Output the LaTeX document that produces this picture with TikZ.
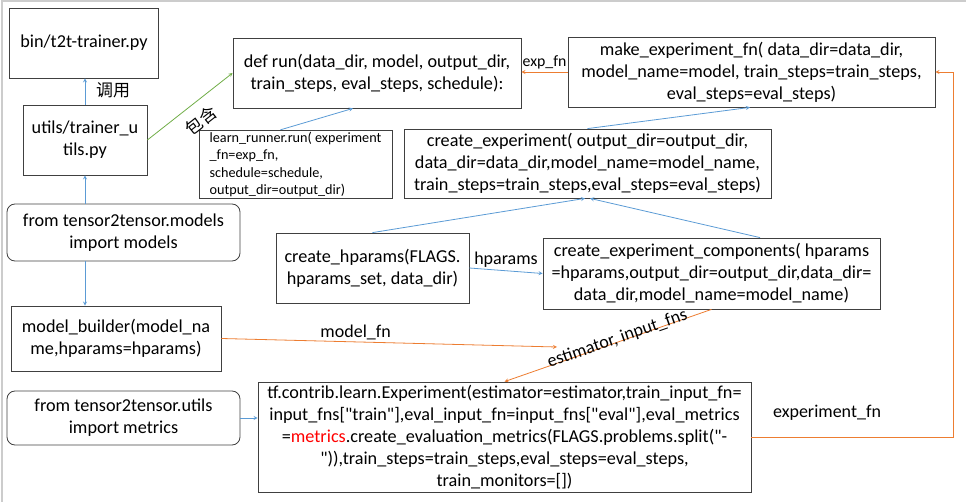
\documentclass[tikz,border=0pt]{standalone}
\usepackage{fontspec}
\setmainfont{Carlito}
\newfontfamily\codefont{Carlito}
\newfontfamily\cjk{Noto Sans CJK SC}
\usetikzlibrary{positioning}

\definecolor{arrblue}{HTML}{5B9BD5}
\definecolor{arrorange}{HTML}{ED7D31}
\definecolor{arrgreen}{HTML}{70AD47}
\definecolor{boxline}{HTML}{404040}

\tikzset{
  codebox/.style={draw=boxline, line width=0.8pt, align=center, inner sep=2pt,
    font=\codefont\fontsize{18.2}{22}\selectfont},
  smallbox/.style={codebox, align=left, font=\codefont\fontsize{14.2}{17.3}\selectfont},
  roundbox/.style={codebox, rounded corners=8pt},
  lbl/.style={font=\codefont\fontsize{18}{20}\selectfont, inner sep=1pt},
  cjklbl/.style={font=\cjk\fontsize{17}{19}\selectfont, inner sep=1pt},
  bluearr/.style={->, draw=arrblue, line width=0.8pt},
  orangearr/.style={->, draw=arrorange, line width=0.8pt},
  greenarr/.style={->, draw=arrgreen, line width=0.8pt}
}

\begin{document}
\begin{tikzpicture}[x=1pt,y=-1pt,>=stealth]
  \useasboundingbox (0,0) rectangle (966,502);
  % frame of the screenshot
  \draw[black!20, line width=1.2pt] (2,502) -- (2,1) -- (966,1);

  % left column
  \node[codebox, minimum width=149pt, minimum height=70pt] (bin) at (84,43) {bin/t2t-trainer.py};
  \node[codebox, minimum width=124pt, minimum height=70pt] (utils) at (85,140) {utils/trainer\_u\\tils.py};
  \node[roundbox, minimum width=233pt, minimum height=57pt] (models) at (123.5,232.5)
    {from tensor2tensor.models\\import models};
  \node[codebox, minimum width=210pt, minimum height=65pt] (mbuild) at (116,338.5)
    {model\_builder(model\_na\\me,hparams=hparams)};
  \node[roundbox, minimum width=233pt, minimum height=54pt] (umetrics) at (123.5,418)
    {from tensor2tensor.utils\\import metrics};

  % run and learn_runner
  \node[codebox, minimum width=288pt, minimum height=70pt] (run) at (377,73)
    {def run(data\_dir, model, output\_dir,\\train\_steps, eval\_steps, schedule):};
  \node[smallbox, minimum width=193pt, minimum height=67pt] (learn) at (295.5,164.5)
    {learn\_runner.run( experiment\\\_fn=exp\_fn,\\schedule=schedule,\\output\_dir=output\_dir)};

  % experiment builders
  \node[codebox, minimum width=367pt, minimum height=70pt] (makefn) at (751.5,72)
    {make\_experiment\_fn( data\_dir=data\_dir,\\model\_name=model, train\_steps=train\_steps,\\eval\_steps=eval\_steps)};
  \node[codebox, minimum width=367pt, minimum height=69pt] (cexp) at (587.5,163.5)
    {create\_experiment( output\_dir=output\_dir,\\data\_dir=data\_dir,model\_name=model\_name,\\train\_steps=train\_steps,eval\_steps=eval\_steps)};
  \node[codebox, minimum width=193pt, minimum height=70pt] (chparams) at (372.5,268)
    {create\_hparams(FLAGS.\\hparams\_set, data\_dir)};
  \node[codebox, minimum width=337pt, minimum height=71pt] (comps) at (711.5,273.5)
    {create\_experiment\_components( hparams\\=hparams,output\_dir=output\_dir,data\_dir=\\data\_dir,model\_name=model\_name)};
  \node[codebox, minimum width=493pt, minimum height=110pt] (exper) at (504.5,437)
    {tf.contrib.learn.Experiment(estimator=estimator,train\_input\_fn=\\
     input\_fns["train"],eval\_input\_fn=input\_fns["eval"],eval\_metrics\\
     =\textcolor{red}{metrics}.create\_evaluation\_metrics(FLAGS.problems.split("-\\
     ")),train\_steps=train\_steps,eval\_steps=eval\_steps,\\
     train\_monitors=[])};

  \coordinate (mfend) at (557,347);
  \coordinate (loopc) at (953,72);

  % blue connectors
  \draw[bluearr] (utils.north) -- (utils |- bin.south);
  \node[cjklbl] (calllbl) at (113,90) {调用};
  \draw[bluearr] (utils.south |- models.north) -- (utils.south);
  \draw[bluearr] (utils.south |- models.south) -- (utils.south |- mbuild.north);
  \draw[bluearr] ([xshift=-15pt]learn.north) -- ([xshift=-24pt]run.south);
  \draw[bluearr] (chparams.north) -- ([xshift=-2.5pt]cexp.south);
  \draw[bluearr] ([xshift=48.5pt]comps.north) -- ([xshift=2.5pt]cexp.south);
  \draw[bluearr] (cexp.north) -- ([xshift=-1.5pt]makefn.south);
  \draw[bluearr] (chparams.east) -- (comps.west) node[lbl, midway, above=2pt] {hparams};
  \draw[bluearr] (umetrics.east) -- (umetrics.east -| exper.west);

  % green connector
  \draw[greenarr] (utils.east) -- (run.west)
    node[cjklbl, pos=0.5, sloped, below=9pt] {包含};

  % orange connectors
  \draw[orangearr] (makefn.west) -- (makefn.west -| run.east)
    node[lbl, midway, above=2pt, font=\codefont\fontsize{15.8}{18}\selectfont] {exp\_fn};
  \draw[orangearr] (mbuild.east) -- (mfend)
    node[lbl, pos=0.4, above=1pt] {model\_fn};
  \draw[orangearr] (comps.south) -- (exper.north)
    node[lbl, pos=0.45, sloped, above=-6pt] {estimator, input\_fns};
  \draw[orangearr] (exper.east) -| (loopc) -- (makefn.east);
  \node[lbl] (expfnlbl) at (827,413) {experiment\_fn};
\end{tikzpicture}
\end{document}
